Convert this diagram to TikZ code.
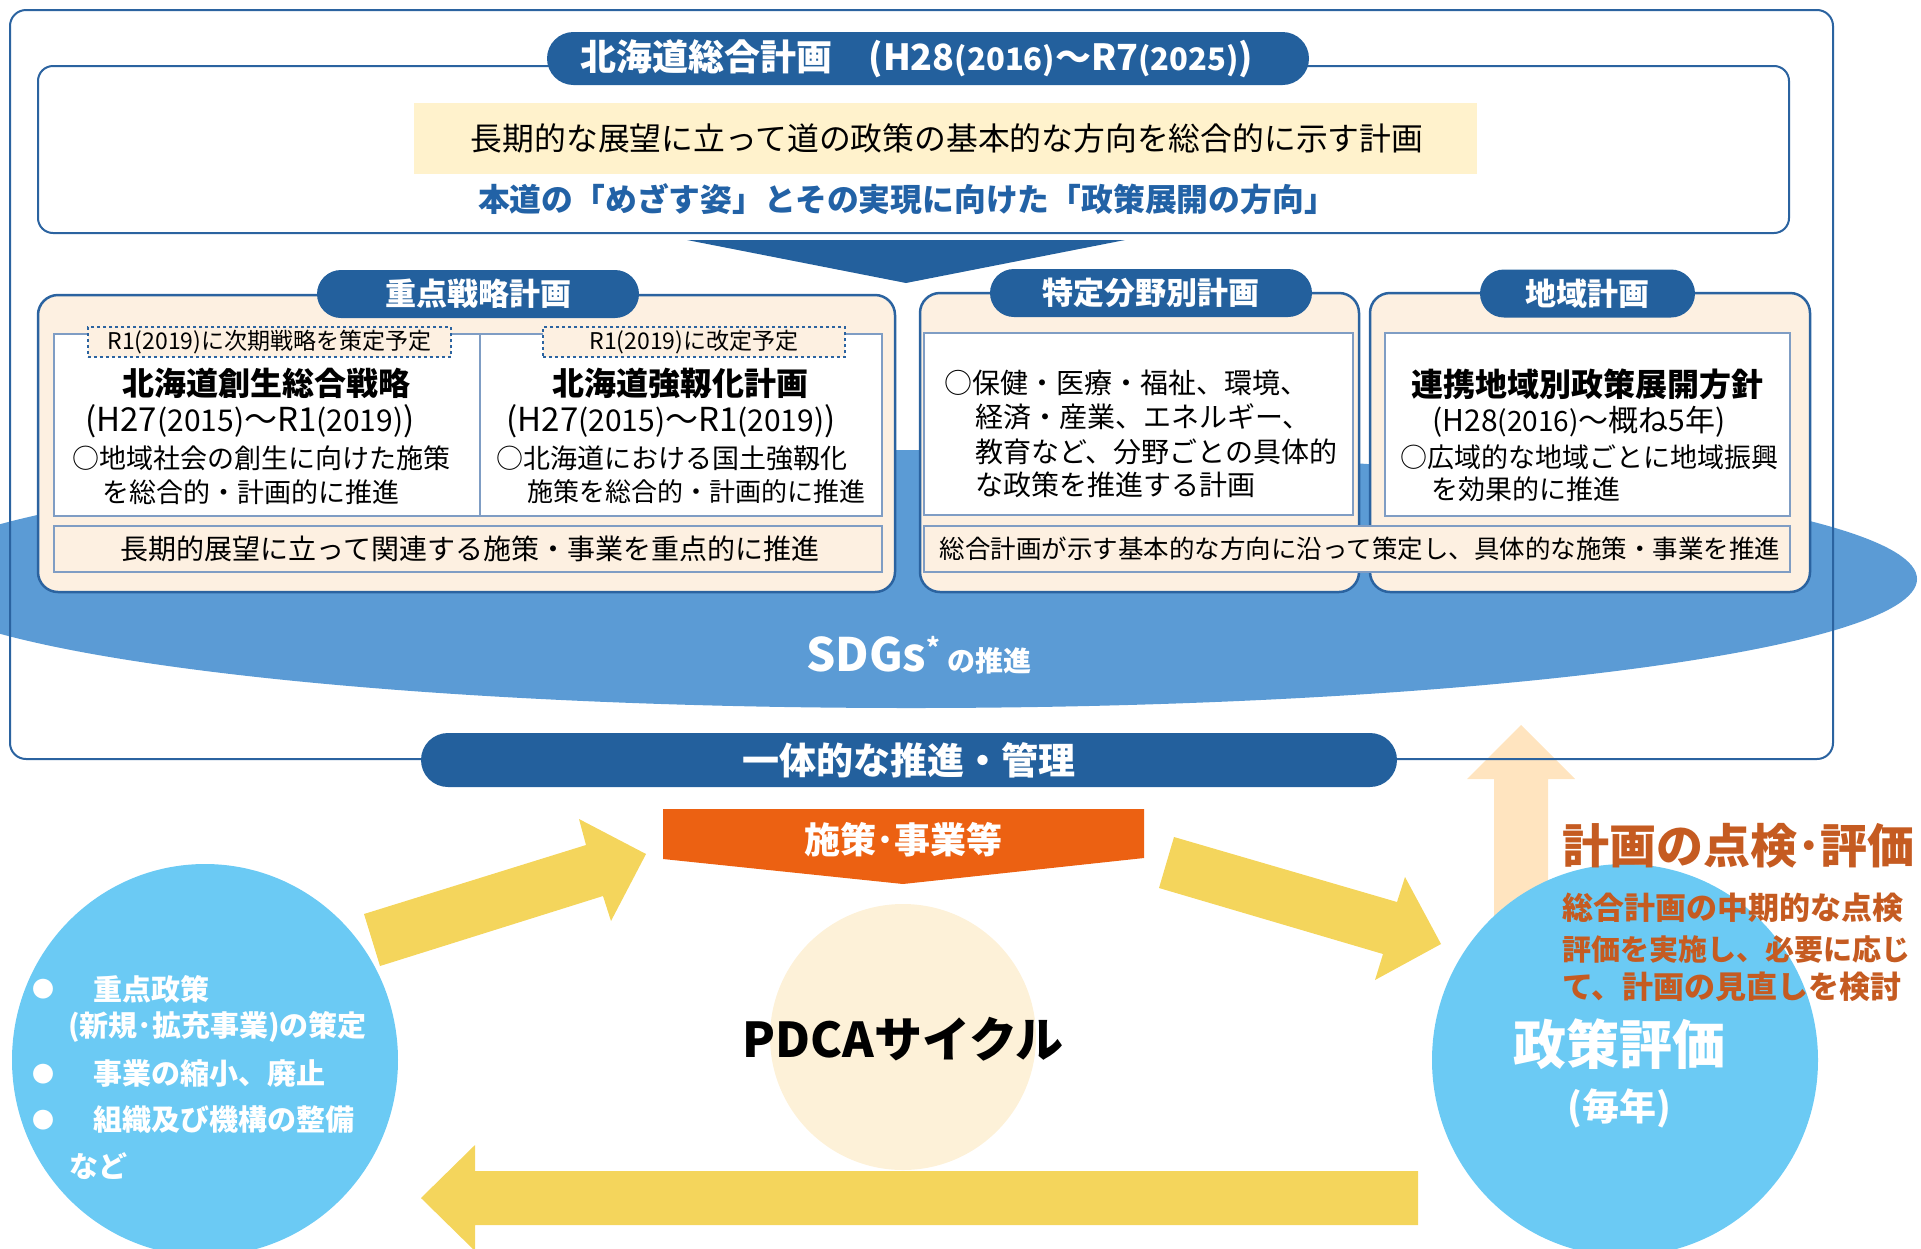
\documentclass[tikz,border=0pt]{standalone}
\usepackage{fontspec}
\setmainfont{Noto Sans CJK JP}
\usetikzlibrary{shapes.geometric}
\definecolor{pillblue}{HTML}{23609D}
\definecolor{frameblue}{HTML}{2B63A0}
\definecolor{cream}{HTML}{FDF0E1}
\definecolor{band}{HTML}{FFF2CC}
\definecolor{textblue}{HTML}{2262A6}
\definecolor{sdgblue}{HTML}{5B9BD5}
\definecolor{boxgray}{HTML}{7F9DC4}
\definecolor{orangeb}{HTML}{EC6112}
\definecolor{pdca}{HTML}{FDF1D8}
\definecolor{skyblue}{HTML}{6BCAF4}
\definecolor{yellowarr}{HTML}{F4D55C}
\definecolor{peach}{HTML}{FFE4BF}
\definecolor{brown}{HTML}{C55B21}
\newcommand\fsz[1]{\fontsize{#1}{#1}\selectfont}
\begin{document}
\begin{tikzpicture}[x=1pt,y=-1pt,
  every node/.style={inner sep=0pt, outer sep=0pt},
  pill/.style={fill=pillblue, text=white, font=\bfseries\fsz{31}},
  panel/.style={draw=frameblue, line width=2.5pt, fill=cream, rounded corners=20pt, anchor=north west},
  wbox/.style={draw=boxgray, line width=1.5pt, fill=white, anchor=north west},
  strip/.style={draw=boxgray, line width=1.5pt, fill=cream, anchor=north west},
  dlabel/.style={draw=frameblue, dashed, line width=1.2pt, fill=cream, font=\fsz{23}},
  body/.style={font=\fsz{27}, anchor=west},
  ttl/.style={font=\bfseries\fsz{32}},
  bulletxt/.style={text=white, font=\bfseries\fsz{29}, anchor=west}
]
\useasboundingbox (0,0) rectangle (1921,1248);

% SDGs ellipse
\node[ellipse, fill=sdgblue, minimum width=2012pt, minimum height=258pt] (sdg) at (911,579) {};

% peach arrow (behind frame)
\fill[peach] (1494,940) -- (1494,779) -- (1467,779) -- (1521,725) -- (1575,779) -- (1548,779) -- (1548,940) -- cycle;

% outer frame
\node[draw=frameblue, line width=2pt, rounded corners=16pt, minimum width=1823pt, minimum height=749pt, anchor=north west] (outer) at (10,10) {};

% general plan box
\node[draw=frameblue, line width=2pt, fill=white, rounded corners=15pt, minimum width=1751pt, minimum height=167pt, anchor=north west] (gen) at (38,66) {};
\node[fill=band, minimum width=1063pt, minimum height=71pt, anchor=north west] (bandbox) at (414,103) {};
\node[font=\fsz{31.8}] (bandtxt) at (947,138) {長期的な展望に立って道の政策の基本的な方向を総合的に示す計画};
\node[text=textblue, font=\bfseries\fsz{31.8}] (dirtxt) at (907,199) {本道の「めざす姿」とその実現に向けた「政策展開の方向」};
\node[pill, minimum width=762pt, minimum height=53pt, rounded corners=26.5pt] (title) at (928,58.5) {};
\node[text=white, font=\bfseries] (titletxt) at (917,58.5)
  {\fsz{36}北海道総合計画　(H28{\fsz{31}(2016)}～R7{\fsz{31}(2025)})};

% chevron
\fill[pillblue] (687,240) -- (1125,240) -- (906,283) -- cycle;

% Panel A
\node[panel, minimum width=857pt, minimum height=297pt] (panA) at (38,295) {};
\node[wbox, minimum width=828pt, minimum height=182pt] (boxA) at (54,334) {};
\draw[boxgray, line width=1.5pt] (boxA.north west) ++(426,0) coordinate (divtop) -- ++(0,182) coordinate (divbot);
\node[strip, minimum width=828pt, minimum height=46pt] (stripA) at (54,526) {};
\node[font=\fsz{28}] (stripAtxt) at (470,549) {長期的展望に立って関連する施策・事業を重点的に推進};
\node[pill, minimum width=322pt, minimum height=48pt, rounded corners=24pt] (headA) at (478,294) {重点戦略計画};
\node[dlabel, minimum width=363pt, minimum height=30pt] (lab1) at (269.5,342) {R1(2019)に次期戦略を策定予定};
\node[dlabel, minimum width=302pt, minimum height=30pt] (lab2) at (694,342) {R1(2019)に改定予定};
\node[ttl] (a1) at (266,383) {北海道創生総合戦略};
\node[font=\fsz{33}] (a2) at (250,421) {(H27{\fsz{30}(2015)}～R1{\fsz{30}(2019)})};
\node[body] (a3) at (72,458) {○地域社会の創生に向けた施策};
\node[body] (a4) at (102,492) {を総合的・計画的に推進};
\node[ttl] (b1) at (680,383) {北海道強靱化計画};
\node[font=\fsz{33}] (b2) at (671,421) {(H27{\fsz{30}(2015)}～R1{\fsz{30}(2019)})};
\node[body] (b3) at (496,458) {○北海道における国土強靱化};
\node[body, font=\fsz{26}] (b4) at (527,492) {施策を総合的・計画的に推進};

% Panel B, C
\node[panel, minimum width=439pt, minimum height=299pt] (panB) at (920,293) {};
\node[panel, minimum width=440pt, minimum height=299pt] (panC) at (1370,293) {};
\node[wbox, minimum width=429pt, minimum height=182pt] (boxB) at (924,333) {};
\node[wbox, minimum width=405pt, minimum height=183pt] (boxC) at (1385,333) {};
\node[strip, minimum width=866pt, minimum height=46pt] (stripBC) at (924,526) {};
\node[font=\fsz{25.5}] (stripBCtxt) at (1360,549) {総合計画が示す基本的な方向に沿って策定し、具体的な施策・事業を推進};
\node[pill, minimum width=322pt, minimum height=48pt, rounded corners=24pt] (headB) at (1151,293) {特定分野別計画};
\node[pill, minimum width=215pt, minimum height=48pt, rounded corners=24pt] (headC) at (1587.5,293.5) {地域計画};
\node[body, font=\fsz{28}] (c1) at (944,383) {○保健・医療・福祉、環境、};
\node[body, font=\fsz{28}] (c2) at (975,417) {経済・産業、エネルギー、};
\node[body, font=\fsz{28}] (c3) at (975,452) {教育など、分野ごとの具体的};
\node[body, font=\fsz{28}] (c4) at (975,485) {な政策を推進する計画};
\node[ttl] (d1) at (1587,384) {連携地域別政策展開方針};
\node[font=\fsz{30}] (d2) at (1579,422) {(H28{\fsz{28}(2016)}～概ね5年)};
\node[body] (d3) at (1400,457) {○広域的な地域ごとに地域振興};
\node[body] (d4) at (1431,489) {を効果的に推進};

% SDGs text
\node[text=white, font=\bfseries] (sdgtxt) at (919,655) {\fsz{46}SDGs\raisebox{14pt}{\fsz{26}*}\,\fsz{28}の推進};

% integrated pill
\node[pill, minimum width=976pt, minimum height=54pt, rounded corners=27pt, font=\bfseries\fsz{37}] (ittai) at (909,760) {一体的な推進・管理};

% orange box
\fill[orangeb] (663,809) -- (1144,809) -- (1144,858) -- (903,884) -- (663,859) -- cycle;
\node[text=white, font=\bfseries\fsz{36}] (sesaku) at (903,840) {施策･事業等};

% yellow arrows
\fill[yellowarr] (364,914) -- (586,845) -- (579,819) -- (646,854) -- (611,921) -- (603,896) -- (380,966) -- cycle;
\fill[yellowarr] (1174,837) -- (1397,902) -- (1405,877) -- (1441,944) -- (1375,980) -- (1383,954) -- (1159,888) -- cycle;
\fill[yellowarr] (1418,1171) -- (475,1171) -- (475,1145) -- (421,1198) -- (475,1251) -- (475,1225) -- (1418,1225) -- cycle;

% PDCA
\node[circle, fill=pdca, minimum size=266pt] (pdcac) at (903,1037) {};
\node[font=\bfseries\fsz{48}] (pdcat) at (903,1039) {PDCAサイクル};

% left circle
\node[ellipse, fill=skyblue, minimum width=386pt, minimum height=392pt] (leftc) at (205,1060) {};
\node[text=white, font=\fsz{22}] (bu1) at (43,989) {●};
\node[text=white, font=\fsz{22}] (bu2) at (43,1074) {●};
\node[text=white, font=\fsz{22}] (bu3) at (43,1120) {●};
\node[bulletxt] (l1) at (93,989) {重点政策};
\node[bulletxt] (l2) at (68,1027) {(新規･拡充事業)の策定};
\node[bulletxt] (l3) at (93,1074) {事業の縮小、廃止};
\node[bulletxt] (l4) at (93,1120) {組織及び機構の整備};
\node[bulletxt] (l5) at (69,1166) {など};

% right circle
\node[ellipse, fill=skyblue, minimum width=386pt, minimum height=392pt] (rightc) at (1625,1060) {};
\node[text=white, font=\bfseries\fsz{53}] (hyoka) at (1619,1044) {政策評価};
\node[text=white, font=\bfseries\fsz{37}] (mainen) at (1619,1108) {(毎年)};

% check text
\node[text=brown, font=\bfseries\fsz{47}, anchor=west] (tenken) at (1562,846) {計画の点検･評価};
\node[text=brown, font=\bfseries\fsz{31}, anchor=west] (t1) at (1562,908) {総合計画の中期的な点検};
\node[text=brown, font=\bfseries\fsz{29}, anchor=west] (t2) at (1562,949) {評価を実施し、必要に応じ};
\node[text=brown, font=\bfseries\fsz{31}, anchor=west] (t3) at (1562,987) {て、計画の見直しを検討};
\end{tikzpicture}
\end{document}
